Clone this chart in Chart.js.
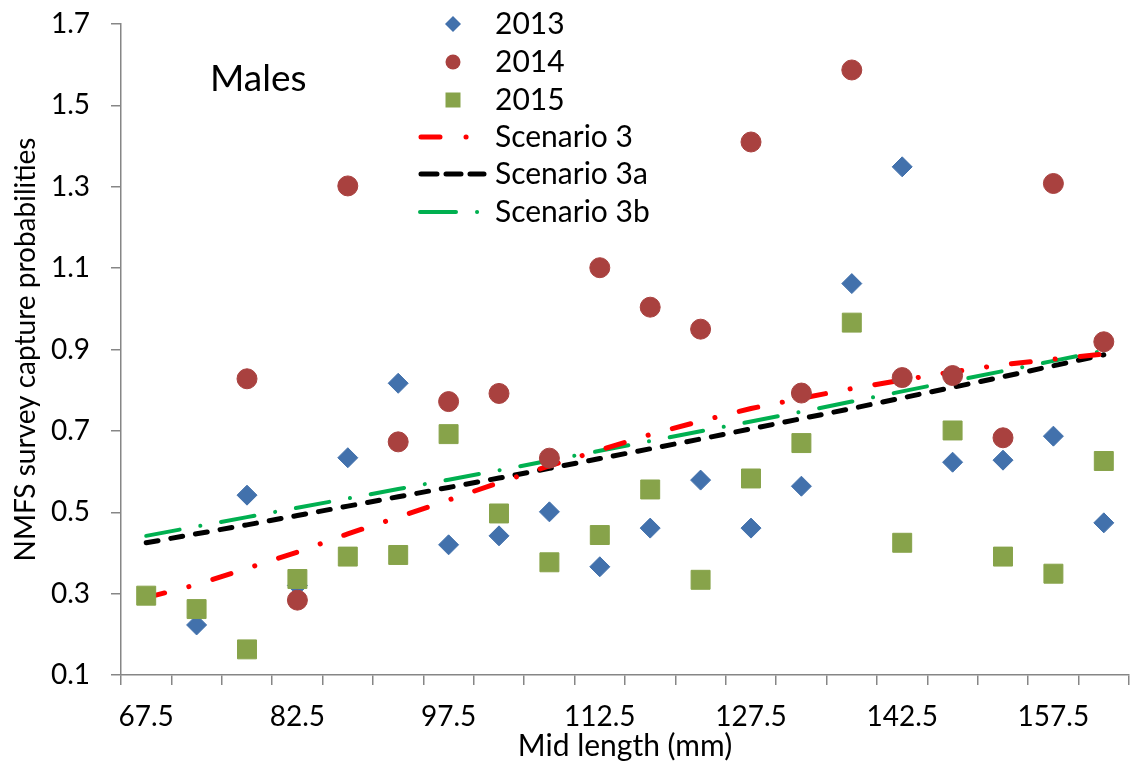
<!DOCTYPE html>
<html>
<head>
<meta charset="utf-8">
<script src="https://cdn.jsdelivr.net/npm/chart.js@4/dist/chart.umd.min.js"></script>
<style>
  html, body { margin: 0; padding: 0; background: #fff; }
  #wrap { width: 1130px; height: 764px; }
</style>
</head>
<body>
<div id="wrap"><canvas id="chart" width="1130" height="764"></canvas></div>
<script>
// mid length classes (mm)
const lengths = ['67.5','72.5','77.5','82.5','87.5','92.5','97.5','102.5','107.5','112.5',
                 '117.5','122.5','127.5','132.5','137.5','142.5','147.5','152.5','157.5','162.5'];

// observed survey capture probabilities by year
const obs2013 = [null, 0.223, 0.542, 0.320, 0.634, 0.817, 0.420, 0.442, 0.501, 0.366,
                 0.461, 0.579, 0.461, 0.564, 1.062, 1.349, 0.623, 0.628, 0.687, 0.474];
const obs2014 = [null, null, 0.828, 0.284, 1.302, 0.673, 0.772, 0.792, 0.633, 1.101,
                 1.004, 0.950, 1.410, 0.793, 1.587, 0.831, 0.836, 0.683, 1.308, 0.919];
const obs2015 = [0.295, 0.262, 0.163, 0.336, 0.391, 0.395, 0.692, 0.497, 0.377, 0.444,
                 0.556, 0.334, 0.583, 0.670, 0.966, 0.425, 0.701, 0.391, 0.349, 0.626];

// fitted selectivity curves
const scen3  = [0.290, 0.322, 0.362, 0.402, 0.447, 0.488, 0.530, 0.573, 0.614, 0.653,
                0.691, 0.724, 0.755, 0.780, 0.804, 0.825, 0.845, 0.863, 0.876, 0.889];
const scen3a = [0.425, 0.447, 0.469, 0.492, 0.515, 0.538, 0.561, 0.584, 0.608, 0.632,
                0.656, 0.680, 0.705, 0.730, 0.755, 0.781, 0.807, 0.833, 0.860, 0.887];
const scen3b = [0.442, 0.465, 0.488, 0.511, 0.534, 0.557, 0.580, 0.603, 0.627, 0.651,
                0.675, 0.699, 0.723, 0.747, 0.772, 0.797, 0.822, 0.847, 0.872, 0.897];

const yTicks = { min: 0.1, max: 1.7, step: 0.2 };

const FONT = 'Lato, "Open Sans", sans-serif';
const AXIS = '#868686';
const BLUE = '#4271ac', RED = '#a9413f', GREEN = '#87a34a';

function marks(label, data, style, color, radius, order){
  return { label, data, showLine: false, pointStyle: style, pointRadius: radius, pointHoverRadius: radius,
    backgroundColor: color, borderColor: color, borderWidth: 1, order };
}
function curve(label, data, color, width, dash, order){
  return { label, data, borderColor: color, backgroundColor: color, borderWidth: width, borderDash: dash,
    borderCapStyle: 'round', pointRadius: 0, tension: 0, fill: false, order, kind: 'curve' };
}

// legend + panel label drawn straight onto the canvas
const overlay = {
  id: 'overlay',
  afterDraw(chart){
    const ctx = chart.ctx;
    ctx.save();
    ctx.fillStyle = '#000';
    ctx.font = '37px ' + FONT;
    ctx.textBaseline = 'alphabetic';
    ctx.fillText('Males', 210, 91);

    const rows = [34, 72, 110, 147, 184, 222];
    const mx = 453, tx = 495;
    ctx.font = '30px ' + FONT;
    chart.data.datasets.forEach((ds, i) => {
      const y = rows[i] - 10;
      ctx.save();
      if (ds.kind === 'curve'){
        ctx.strokeStyle = ds.borderColor;
        ctx.lineWidth = ds.borderWidth;
        ctx.lineCap = 'round';
        ctx.beginPath();
        if (i === 3){ ctx.moveTo(421, y); ctx.lineTo(440, y); ctx.moveTo(466, y); ctx.lineTo(466.1, y); }
        else if (i === 4){ [[421,437],[446,461],[470,484]].forEach(s => { ctx.moveTo(s[0], y); ctx.lineTo(s[1], y); }); }
        else { ctx.moveTo(420, y); ctx.lineTo(456, y); ctx.moveTo(477, y); ctx.lineTo(477.1, y); }
        ctx.stroke();
      } else {
        ctx.fillStyle = ds.backgroundColor;
        ctx.beginPath();
        if (ds.pointStyle === 'rectRot'){ ctx.moveTo(mx, y-8); ctx.lineTo(mx+8, y); ctx.lineTo(mx, y+8); ctx.lineTo(mx-8, y); ctx.closePath(); }
        else if (ds.pointStyle === 'circle'){ ctx.arc(mx, y, 7.5, 0, Math.PI*2); }
        else { ctx.rect(mx-7.5, y-7.5, 15, 15); }
        ctx.fill();
      }
      ctx.restore();
      ctx.fillStyle = '#000';
      ctx.fillText(ds.label, tx, rows[i]);
    });
    ctx.restore();
  }
};

new Chart(document.getElementById('chart'), {
  type: 'line',
  data: {
    labels: lengths,
    datasets: [
      marks('2013', obs2013, 'rectRot', BLUE, 10, 2),
      marks('2014', obs2014, 'circle', RED, 10, 1),
      marks('2015', obs2015, 'rect', GREEN, 13.4, 0),
      curve('Scenario 3', scen3, '#ff0000', 5, [19, 25, 0.1, 25], 3),
      curve('Scenario 3a', scen3a, '#000000', 5, [12, 13], 4),
      curve('Scenario 3b', scen3b, '#00b050', 4, [34, 21, 0.1, 21], 5)
    ]
  },
  options: {
    responsive: false,
    animation: false,
    // markers may overhang the frame, so no automatic padding for them
    layout: { autoPadding: false, padding: { top: 24, right: 1, left: 0, bottom: 0 } },
    plugins: { legend: { display: false }, tooltip: { enabled: false } },
    scales: {
      x: {
        offset: true,
        grid: { offset: true, drawOnChartArea: false, drawTicks: true, tickLength: 10, color: AXIS, lineWidth: 1.5 },
        border: { color: AXIS, width: 1.5 },
        ticks: {
          autoSkip: false, maxRotation: 0, padding: 15, color: '#000',
          font: { family: FONT, size: 28 },
          callback(v, i){ return i % 3 === 0 ? this.getLabelForValue(v) : ''; }
        },
        title: { display: true, text: 'Mid length (mm)', color: '#000', font: { family: FONT, size: 30 }, padding: { top: 0, bottom: 0 } },
        afterFit(s){ s.height = 89; s.paddingLeft = 0; s.paddingRight = 0; }
      },
      y: {
        min: yTicks.min, max: yTicks.max,
        grid: { drawOnChartArea: false, drawTicks: true, tickLength: 10, color: AXIS, lineWidth: 1.5 },
        border: { color: AXIS, width: 1.5 },
        ticks: {
          stepSize: yTicks.step, padding: 21, color: '#000',
          font: { family: FONT, size: 28 },
          callback(v){ return v.toFixed(1); }
        },
        title: { display: true, text: 'NMFS survey capture probabilities', color: '#000', font: { family: FONT, size: 28 }, padding: { top: 9, bottom: 0 } },
        afterFit(s){ s.width = 121; s.paddingTop = 0; s.paddingBottom = 0; }
      }
    }
  },
  plugins: [overlay]
});
</script>
</body>
</html>
